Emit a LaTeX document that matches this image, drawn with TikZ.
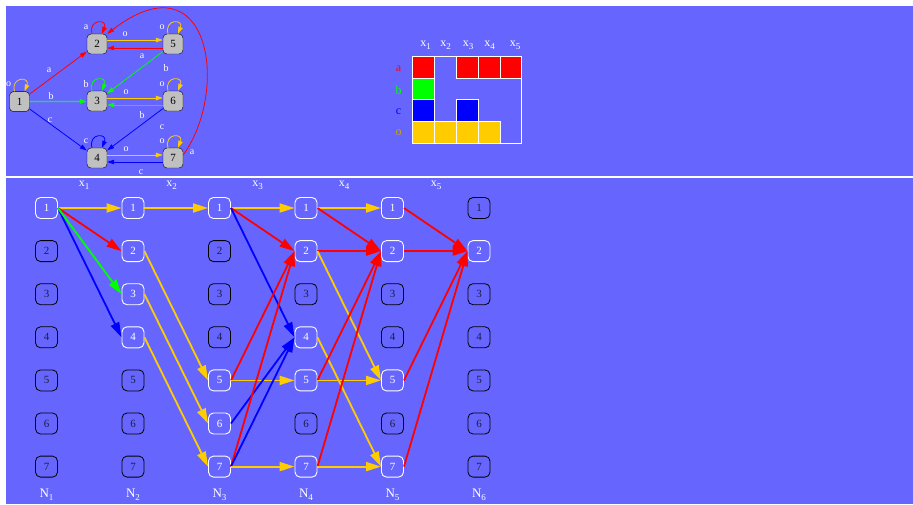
\documentclass[tikz,border=0pt]{standalone}
\usepackage{fontspec}
\setmainfont{Liberation Serif}
\usetikzlibrary{arrows.meta,positioning}
\definecolor{bgblue}{HTML}{6666FF}
\definecolor{colo}{HTML}{FFCC00}
\definecolor{cola}{HTML}{FF0000}
\definecolor{colb}{HTML}{00FF00}
\definecolor{colc}{HTML}{0000FF}
\definecolor{stategray}{HTML}{C0C0C0}
\definecolor{deadink}{HTML}{1C1C48}
\newcommand{\xsub}[2]{#1\raisebox{-3pt}{\fontsize{9}{10}\selectfont #2}}

\tikzset{
  state/.style={draw=black, fill=stategray, rounded corners=4pt, minimum size=20pt,
    inner sep=0pt, font=\fontsize{11}{12}\selectfont},
  live/.style={draw=white, text=white, line width=0.9pt, rounded corners=5pt,
    minimum width=22pt, minimum height=21pt, inner sep=0pt, font=\fontsize{11}{12}\selectfont},
  dead/.style={live, draw=black, text=deadink, line width=0.8pt},
  trans/.style={line width=0.8pt, -{Triangle[length=7pt,width=4.5pt]}},
  hop/.style={line width=1.8pt, -{Triangle[length=15pt,width=9pt]}},
  lbl/.style={text=white, inner sep=0pt, font=\fontsize{10}{11}\selectfont}
}

\begin{document}
\begin{tikzpicture}[x=1pt,y=-1pt]
  \useasboundingbox (0,0) rectangle (913,504);
  \fill[white] (0,0) rectangle (913,504);
  \fill[bgblue] (6,6) rectangle (913,504);
  \draw[white, line width=2pt] (6,177) -- (913,177);

  % automaton
  \node[state] (s1) at (19.5,101.6) {1};
  \node[state] (s2) at (97,44) {2};
  \node[state] (s5) at (173,44) {5};
  \node[state] (s3) at (97,101) {3};
  \node[state] (s6) at (173,101) {6};
  \node[state] (s4) at (97,158) {4};
  \node[state] (s7) at (173,158) {7};

  \foreach \s/\t/\col in {1/o/colo,2/a/cola,5/o/colo,3/b/colb,6/o/colo,4/c/colc,7/o/colo} {
    \draw[trans,\col] ([xshift=-5pt]s\s.north) .. controls +(-4,-15) and +(6,-15) .. ([xshift=5pt]s\s.north);
    \node[lbl] (loop\s) at ([shift={(-11pt,17pt)}]s\s.center) {\t};
  }

  \draw[trans,cola] (s1) -- (s2);
  \draw[trans,colb,line width=1.3pt] (s1.east) -- ([yshift=-0.4pt]s3.west);
  \draw[trans,colc] (s1) -- (s4);
  \draw[trans,colo] ([yshift=4pt]s2.east) -- ([yshift=4pt]s5.west);
  \draw[trans,cola] ([yshift=-4pt]s5.west) -- ([yshift=-4pt]s2.east);
  \draw[trans,colb] (s5) -- (s3);
  \draw[trans,colo] ([yshift=3pt]s3.east) -- ([yshift=3pt]s6.west);
  \draw[trans,colb] ([yshift=-4pt]s6.west) -- ([yshift=-4pt]s3.east);
  \draw[trans,colc] (s6) -- (s4);
  \draw[trans,colo] ([yshift=3pt]s4.east) -- ([yshift=3pt]s7.west);
  \draw[trans,colc] ([yshift=-4pt]s7.west) -- ([yshift=-4pt]s4.east);
  \draw[trans,cola] ([yshift=3pt]s7.east) .. controls (230,90) and (210,-45) .. (s2.north east);

  \foreach \n/\x/\y/\t in {12/49/70/a, 13/51/96/b, 14/50/120/c, 25/125/34/o, 52/142/56/a,
      53/166/68/b, 36/126/92/o, 63/142/115/b, 64/162/127/c, 47/126/149/o, 74/141/172/c, 72/192/152/a}
    \node[lbl] (lab\n) at (\x,\y) {\t};

  % symbol table
  \foreach \i/\j/\col in {1/1/cola,3/1/cola,4/1/cola,5/1/cola,1/2/colb,1/3/colc,3/3/colc,
      1/4/colo,2/4/colo,3/4/colo,4/4/colo}
    \filldraw[fill=\col, draw=white, line width=0.5pt] ({412.7+21.8*(\i-1)},{56+21.8*(\j-1)}) rectangle +(21.8,21.8);
  \draw[white, line width=1pt] (412.7,56) rectangle (521.7,143.2);
  \foreach \i/\x in {1/425.5,2/445.5,3/468,4/489.5,5/515}
    \node[lbl, font=\fontsize{12}{13}\selectfont] (col\i) at (\x,45) {\xsub{x}{\i}};
  \foreach \s/\y/\col in {a/69/cola, b/90/colb, c/112/colc, o/133/colo!80!black}
    \node[lbl, text=\col, font=\fontsize{12}{13}\selectfont] (row\s) at (398.5,\y) {\s};

  % trellis
  \foreach \c/\r in {1/2,1/3,1/4,1/5,1/6,1/7, 2/5,2/6,2/7, 3/2,3/3,3/4, 4/3,4/6, 5/3,5/4,5/6,
      6/1,6/3,6/4,6/5,6/6,6/7}
    \node[dead] (t\c-\r) at ({46.5+86.5*(\c-1)},{208+43.1*(\r-1)}) {\r};
  \foreach \c/\r in {1/1, 2/1,2/2,2/3,2/4, 3/1,3/5,3/6,3/7, 4/1,4/2,4/4,4/5,4/7, 5/1,5/2,5/5,5/7, 6/2}
    \node[live] (t\c-\r) at ({46.5+86.5*(\c-1)},{208+43.1*(\r-1)}) {\r};

  \foreach \a/\b/\col in {1-1/2-1/colo, 1-1/2-2/cola, 1-1/2-4/colc, 1-1/2-3/colb,
      2-1/3-1/colo, 2-2/3-5/colo, 2-3/3-6/colo, 2-4/3-7/colo,
      3-1/4-1/colo, 3-1/4-2/cola, 3-1/4-4/colc, 3-5/4-2/cola, 3-5/4-5/colo, 3-6/4-4/colc,
      3-7/4-2/cola, 3-7/4-4/colc, 3-7/4-7/colo,
      4-1/5-1/colo, 4-1/5-2/cola, 4-2/5-2/cola, 4-2/5-5/colo, 4-4/5-7/colo, 4-5/5-2/cola,
      4-5/5-5/colo, 4-7/5-2/cola, 4-7/5-7/colo,
      5-1/6-2/cola, 5-2/6-2/cola, 5-5/6-2/cola, 5-7/6-2/cola}
    \draw[hop,\col] (t\a.east) -- (t\b.west);

  \foreach \i/\x in {1/84,2/171.5,3/257.5,4/344,5/436}
    \node[lbl, font=\fontsize{12}{13}\selectfont] (xlab\i) at (\x,185) {\xsub{x}{\i}};
  \foreach \c in {1,...,6}
    \node[lbl, font=\fontsize{13}{14}\selectfont] (nlab\c) at ({46.5+86.5*(\c-1)},495) {\xsub{N}{\c}};
\end{tikzpicture}
\end{document}
